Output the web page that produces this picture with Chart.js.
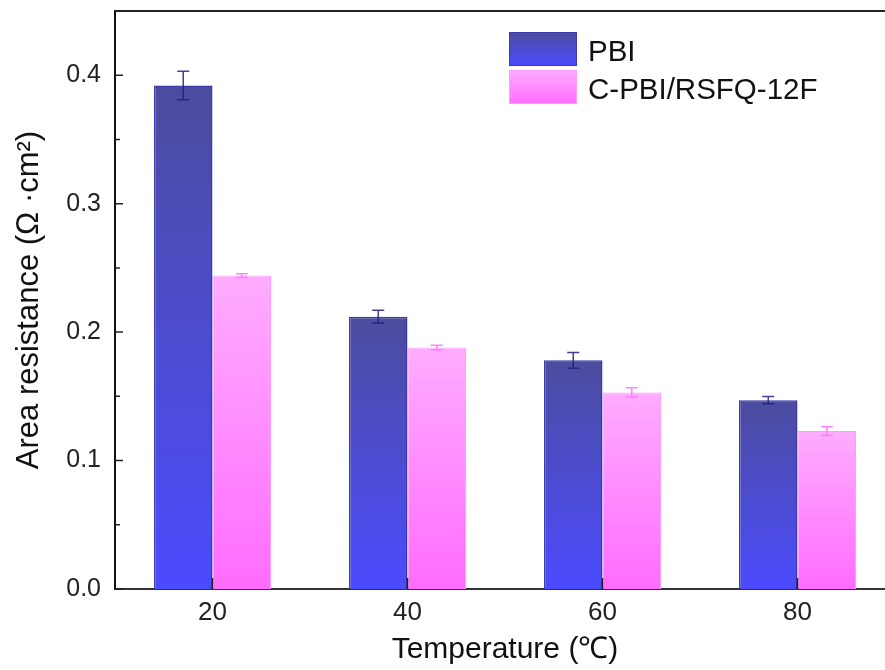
<!DOCTYPE html>
<html>
<head>
<meta charset="utf-8">
<script src="https://cdn.jsdelivr.net/npm/chart.js@4/dist/chart.umd.min.js"></script>
<style>
  html, body { margin: 0; padding: 0; background: #fff; overflow: hidden; }
  #wrap { width: 896px; height: 670px; }
</style>
</head>
<body>
<div id="wrap"><canvas id="c" width="896" height="670"></canvas></div>
<script>
// ---- data ----
const categories = ['20', '40', '60', '80'];
const seriesNames = ['PBI', 'C-PBI/RSFQ-12F'];
const pbiValues = [0.392, 0.212, 0.178, 0.147];
const pbiErrors = [0.011, 0.005, 0.0062, 0.0028];
const cpbiValues = [0.244, 0.188, 0.153, 0.123];
const cpbiErrors = [0.0015, 0.0017, 0.0036, 0.0034];
const yTickValues = [0, 0.1, 0.2, 0.3, 0.4];
const yMinorTickValues = [0.05, 0.15, 0.25, 0.35];
const xTitle = 'Temperature (\u2103)';
const yTitle = 'Area resistance (\u03A9 \u00B7cm\u00B2)';

const FONT = '"Liberation Sans", Arial, sans-serif';

function barGradient(topColor, bottomColor) {
  return function (ctx) {
    const chart = ctx.chart;
    if (ctx.type !== 'data' || !chart.chartArea || !chart.scales.y) return bottomColor;
    const ys = chart.scales.y;
    const v = ctx.raw;
    const y0 = ys.getPixelForValue(v);
    const y1 = ys.getPixelForValue(0);
    if (!isFinite(y0) || !isFinite(y1) || y1 - y0 < 1) return bottomColor;
    const g = chart.ctx.createLinearGradient(0, y0, 0, y1);
    g.addColorStop(0, topColor);
    g.addColorStop(1, bottomColor);
    return g;
  };
}

const legendColors = [
  ['#4c4c9e', '#4b4bff', '#3a3aa8'],
  ['#ffacff', '#ff6cff', '#ff9cff']
];

const errorBarsPlugin = {
  id: 'errorBars',
  afterDatasetsDraw(chart) {
    const ctx = chart.ctx;
    const ys = chart.scales.y;
    chart.data.datasets.forEach((ds, i) => {
      const meta = chart.getDatasetMeta(i);
      if (!ds.errorBars) return;
      ctx.save();
      ctx.strokeStyle = ds.errorColor;
      ctx.lineWidth = 1.5;
      meta.data.forEach((bar, j) => {
        const v = ds.data[j], e = ds.errorBars[j];
        const yt = ys.getPixelForValue(v + e);
        const yb = ys.getPixelForValue(v - e);
        const x = bar.x;
        const hw = 6;
        ctx.beginPath();
        ctx.moveTo(x, yt); ctx.lineTo(x, yb);
        ctx.moveTo(x - hw, yt); ctx.lineTo(x + hw, yt);
        ctx.moveTo(x - hw, yb); ctx.lineTo(x + hw, yb);
        ctx.stroke();
      });
      ctx.restore();
    });
  }
};

const frameAndTicksPlugin = {
  id: 'frameTicks',
  afterDatasetsDraw(chart) {
    const ctx = chart.ctx;
    const a = chart.chartArea;
    const xs = chart.scales.x, ys = chart.scales.y;
    ctx.save();
    ctx.strokeStyle = '#222';
    ctx.lineWidth = 2;
    ctx.beginPath();
    ctx.moveTo(a.left, a.top); ctx.lineTo(a.right, a.top); ctx.lineTo(a.right, a.bottom);
    ctx.stroke();
    ctx.lineWidth = 1.5;
    ctx.beginPath();
    categories.forEach((c, i) => {
      const x = xs.getPixelForValue(i);
      ctx.moveTo(x, a.bottom); ctx.lineTo(x, a.bottom - 11);
    });
    yTickValues.forEach(v => {
      const y = ys.getPixelForValue(v);
      ctx.moveTo(a.left, y); ctx.lineTo(a.left + 8, y);
    });
    yMinorTickValues.forEach(v => {
      const y = ys.getPixelForValue(v);
      ctx.moveTo(a.left, y); ctx.lineTo(a.left + 5, y);
    });
    ctx.stroke();
    ctx.restore();
  }
};

const legendPlugin = {
  id: 'boxLegend',
  afterDraw(chart) {
    const ctx = chart.ctx;
    const a = chart.chartArea;
    const bx = a.left + 394, bw = 68, bh = 34;
    ctx.save();
    chart.data.datasets.forEach((ds, i) => {
      const by = a.top + 21 + i * 38;
      const g = ctx.createLinearGradient(0, by, 0, by + bh);
      g.addColorStop(0, legendColors[i][0]);
      g.addColorStop(1, legendColors[i][1]);
      ctx.fillStyle = g;
      ctx.fillRect(bx, by, bw, bh);
      ctx.strokeStyle = legendColors[i][2];
      ctx.lineWidth = 1;
      ctx.strokeRect(bx + 0.5, by + 0.5, bw - 1, bh - 1);
      ctx.fillStyle = '#111';
      ctx.font = '29.5px ' + FONT;
      ctx.textBaseline = 'alphabetic';
      ctx.textAlign = 'left';
      ctx.fillText(ds.label, bx + 79, by + 29);
    });
    ctx.restore();
  }
};

new Chart(document.getElementById('c'), {
  type: 'bar',
  data: {
    labels: categories,
    datasets: [
      {
        label: seriesNames[0],
        data: pbiValues,
        errorBars: pbiErrors,
        errorColor: 'rgba(30,30,130,0.85)',
        backgroundColor: barGradient('#4c4c9e', '#4b4bff'),
        borderColor: '#3a3aa8',
        borderWidth: 1.5,
        categoryPercentage: 0.6,
        barPercentage: 1.0
      },
      {
        label: seriesNames[1],
        data: cpbiValues,
        errorBars: cpbiErrors,
        errorColor: 'rgba(255,120,255,0.9)',
        backgroundColor: barGradient('#ffacff', '#ff6cff'),
        borderColor: '#ff9cff',
        borderWidth: 1,
        categoryPercentage: 0.6,
        barPercentage: 1.0
      }
    ]
  },
  options: {
    responsive: false,
    animation: false,
    devicePixelRatio: 1,
    layout: { padding: { top: 11, right: 1, left: 0, bottom: 0 } },
    plugins: {
      legend: { display: false },
      tooltip: { enabled: false }
    },
    scales: {
      x: {
        type: 'category',
        offset: true,
        grid: { display: false, drawTicks: false },
        border: { display: true, color: '#333', width: 2 },
        ticks: { color: '#222', font: { family: FONT, size: 26 }, padding: 8, maxRotation: 0 },
        title: {
          display: true, text: xTitle, color: '#111',
          font: { family: FONT, size: 30 }, padding: { top: 0, bottom: 2 }
        },
        afterFit(s) { s.height = 81; s.paddingLeft = 0; s.paddingRight = 0; }
      },
      y: {
        min: 0, max: 0.45,
        grid: { display: false, drawTicks: false },
        border: { display: true, color: '#111', width: 2 },
        afterBuildTicks(s) { s.ticks = yTickValues.map(v => ({ value: v })); },
        ticks: {
          color: '#222', font: { family: FONT, size: 25 }, padding: 14,
          callback: v => Number(v).toFixed(1)
        },
        title: {
          display: true, text: yTitle, color: '#111',
          font: { family: FONT, size: 31 }, padding: { top: 11, bottom: 0 }
        },
        afterFit(s) { s.width = 115; s.paddingTop = 0; s.paddingBottom = 0; }
      }
    }
  },
  plugins: [errorBarsPlugin, frameAndTicksPlugin, legendPlugin]
});
</script>
</body>
</html>
